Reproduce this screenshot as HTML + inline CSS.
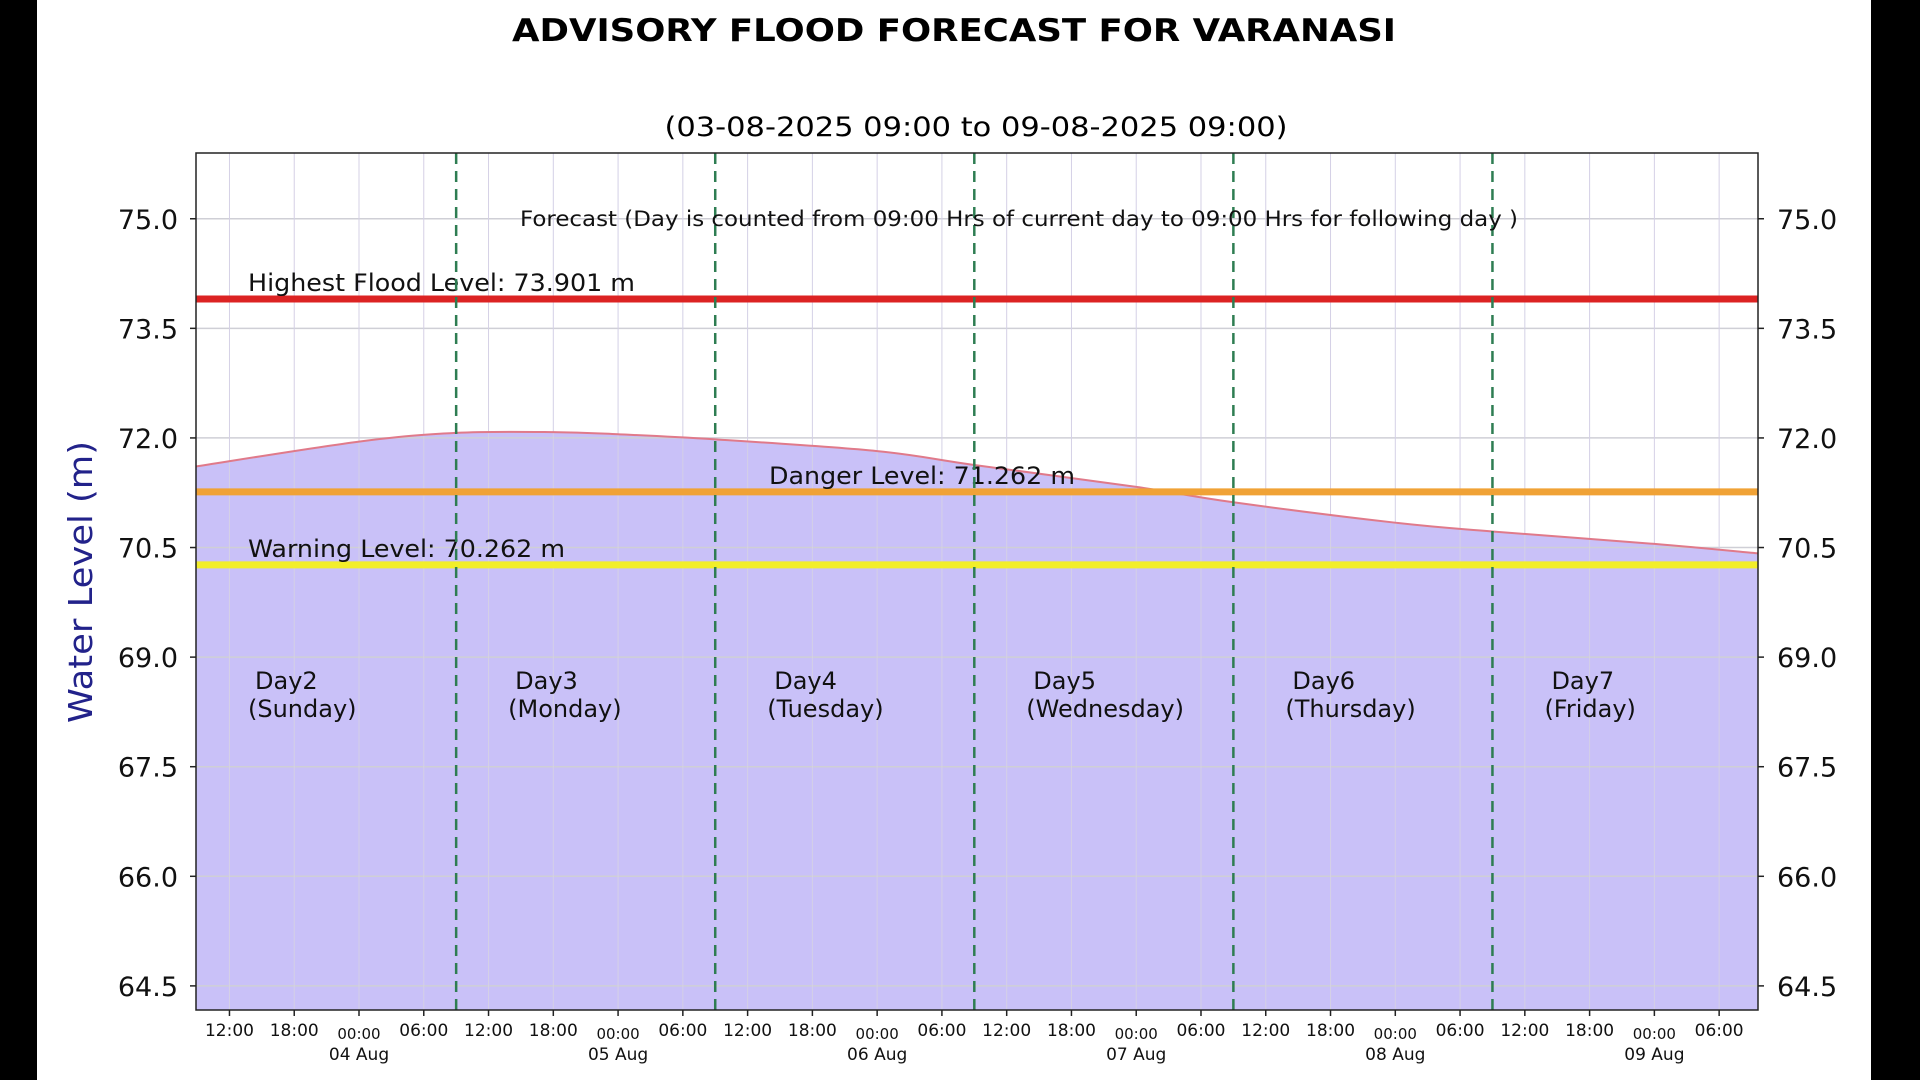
<!DOCTYPE html>
<html><head><meta charset="utf-8"><style>
html,body{margin:0;padding:0;background:#fff;}
svg{display:block;font-family:"DejaVu Sans","Liberation Sans",sans-serif;}
</style></head><body>
<svg id="chart" width="1920" height="1080" viewBox="0 0 1920 1080" xmlns="http://www.w3.org/2000/svg">
<rect x="0" y="0" width="1920" height="1080" fill="#fff"/>
<rect x="0" y="0" width="37" height="1080" fill="#000"/>
<rect x="1871" y="0" width="49" height="1080" fill="#000"/>
<text x="954" y="41" text-anchor="middle" font-size="31" font-weight="bold" fill="#000" textLength="884" lengthAdjust="spacingAndGlyphs">ADVISORY FLOOD FORECAST FOR VARANASI</text>
<text x="976" y="136" text-anchor="middle" font-size="27" fill="#000" textLength="623" lengthAdjust="spacingAndGlyphs">(03-08-2025 09:00 to 09-08-2025 09:00)</text>
<g id="plot"></g>
<text transform="translate(92,582) rotate(-90)" text-anchor="middle" font-size="33" fill="#22228a" textLength="282" lengthAdjust="spacingAndGlyphs">Water Level (m)</text>
</svg>
<script>
// hours relative to 04 Aug 00:00
const times = [-15.1, 0, 9, 18, 24, 33, 48, 57, 72, 81, 96, 105, 120, 129.6];
const levels = [71.61, 71.95, 72.07, 72.08, 72.05, 71.98, 71.82, 71.63, 71.33, 71.12, 70.84, 70.72, 70.55, 70.42];
const yTicks = [64.5, 66.0, 67.5, 69.0, 70.5, 72.0, 73.5, 75.0];
const xTickHours = [-12,-6,0,6,12,18,24,30,36,42,48,54,60,66,72,78,84,90,96,102,108,114,120,126];
const dayDates = ["04 Aug","05 Aug","06 Aug","07 Aug","08 Aug","09 Aug"];
const dayBoundaries = [9, 33, 57, 81, 105];
const dayNames = ["Day2","Day3","Day4","Day5","Day6","Day7"];
const dayWeekdays = ["(Sunday)","(Monday)","(Tuesday)","(Wednesday)","(Thursday)","(Friday)"];
const refLabels = ["Highest Flood Level: 73.901 m","Danger Level: 71.262 m","Warning Level: 70.262 m"];
const refValues = [73.901, 71.262, 70.262];

const L=196,R=1758,T=153,B=1010;
const xMin=-15.1,xMax=129.6,yMin=64.17,yMax=75.9;
const X=h=>L+(h-xMin)/(xMax-xMin)*(R-L);
const Y=v=>B-(v-yMin)/(yMax-yMin)*(B-T);
const NS="http://www.w3.org/2000/svg";
const g=document.getElementById('plot');
function mk(tag,attrs,parent){const e=document.createElementNS(NS,tag);for(const k in attrs)e.setAttribute(k,attrs[k]);(parent||g).appendChild(e);return e;}

// smooth path through data points (Catmull-Rom)
const pts=times.map((t,i)=>[X(t),Y(levels[i])]);
function smooth(p){let s=`${p[0][0]},${p[0][1]}`;
 for(let i=0;i<p.length-1;i++){const p0=p[i-1]||p[i],p1=p[i],p2=p[i+1],p3=p[i+2]||p2;
  const c1=[p1[0]+(p2[0]-p0[0])/6,p1[1]+(p2[1]-p0[1])/6],c2=[p2[0]-(p3[0]-p1[0])/6,p2[1]-(p3[1]-p1[1])/6];
  s+=` C${c1[0]},${c1[1]} ${c2[0]},${c2[1]} ${p2[0]},${p2[1]}`;}
 return s;}
const curve=smooth(pts);

const area=mk('path',{d:`M${pts[0][0]},${B} L${curve} L${pts[pts.length-1][0]},${B} Z`,fill:'#c9c1f8'});



yTicks.forEach(v=>{const l=mk('line',{x1:L,x2:R,y1:Y(v),y2:Y(v),stroke:'#cfcfd6','stroke-width':1.5});

});
xTickHours.forEach(h=>{const l=mk('line',{x1:X(h),x2:X(h),y1:T,y2:B,stroke:'#d4d0e6','stroke-width':1});

});

const line=mk('path',{d:'M'+curve,fill:'none',stroke:'#e07a8a','stroke-width':2});



const refColors=['#dc2323','#f0a236','#f2ee2a'];
const refLabelX=[248,769,248];
const refLabelW=[387,306,317];
refValues.forEach((v,i)=>{
 const l=mk('line',{x1:L,x2:R,y1:Y(v),y2:Y(v),stroke:refColors[i],'stroke-width':7});
 
 
 const t=mk('text',{x:refLabelX[i],y:Y(v)-8,'font-size':24,fill:'#111',textLength:refLabelW[i],lengthAdjust:'spacingAndGlyphs'});
 t.textContent=refLabels[i];
 
 
});

dayBoundaries.forEach(h=>{const l=mk('line',{x1:X(h),x2:X(h),y1:T,y2:B,stroke:'#2e7d52','stroke-width':2.5,'stroke-dasharray':'11,7'});

});

const note=mk('text',{x:520,y:226,'font-size':21,fill:'#111',textLength:998,lengthAdjust:'spacingAndGlyphs'});
note.textContent='Forecast (Day is counted from 09:00 Hrs of current day to 09:00 Hrs for following day )';



const starts=[-15].concat(dayBoundaries);
dayNames.forEach((n,i)=>{
 const x=i===0?248:X(starts[i])+52;
 const a=mk('text',{x:x+7,y:689,'font-size':24,fill:'#111'});a.textContent=n;
 
 
 const b=mk('text',{x:x,y:717,'font-size':24,fill:'#111'});b.textContent=dayWeekdays[i];
 
 
});

const fr=mk('rect',{x:L,y:T,width:R-L,height:B-T,fill:'none',stroke:'#222','stroke-width':1.5});



yTicks.forEach(v=>{
 const t1=mk('text',{x:178,y:Y(v)+10,'text-anchor':'end','font-size':27,fill:'#111'});t1.textContent=v.toFixed(1);
 
 
 const t2=mk('text',{x:1777,y:Y(v)+10,'font-size':27,fill:'#111'});t2.textContent=v.toFixed(1);
 
 
 mk('line',{x1:L-6,x2:L,y1:Y(v),y2:Y(v),stroke:'#222','stroke-width':1.5});
 mk('line',{x1:R,x2:R+6,y1:Y(v),y2:Y(v),stroke:'#222','stroke-width':1.5});
});

xTickHours.forEach(h=>{
 const hh=((h%24)+24)%24;
 mk('line',{x1:X(h),x2:X(h),y1:B,y2:B+6,stroke:'#222','stroke-width':1.5});
 const t=mk('text',{x:X(h),y:hh===0?1039:1036,'text-anchor':'middle','font-size':hh===0?15:17,fill:'#111'});
 t.textContent=String(hh).padStart(2,'0')+':00';
 
 
 if(hh===0){const dt=mk('text',{x:X(h),y:1060,'text-anchor':'middle','font-size':17,fill:'#111'});dt.textContent=dayDates[h/24];
 
 }
});
</script>
</body></html>
